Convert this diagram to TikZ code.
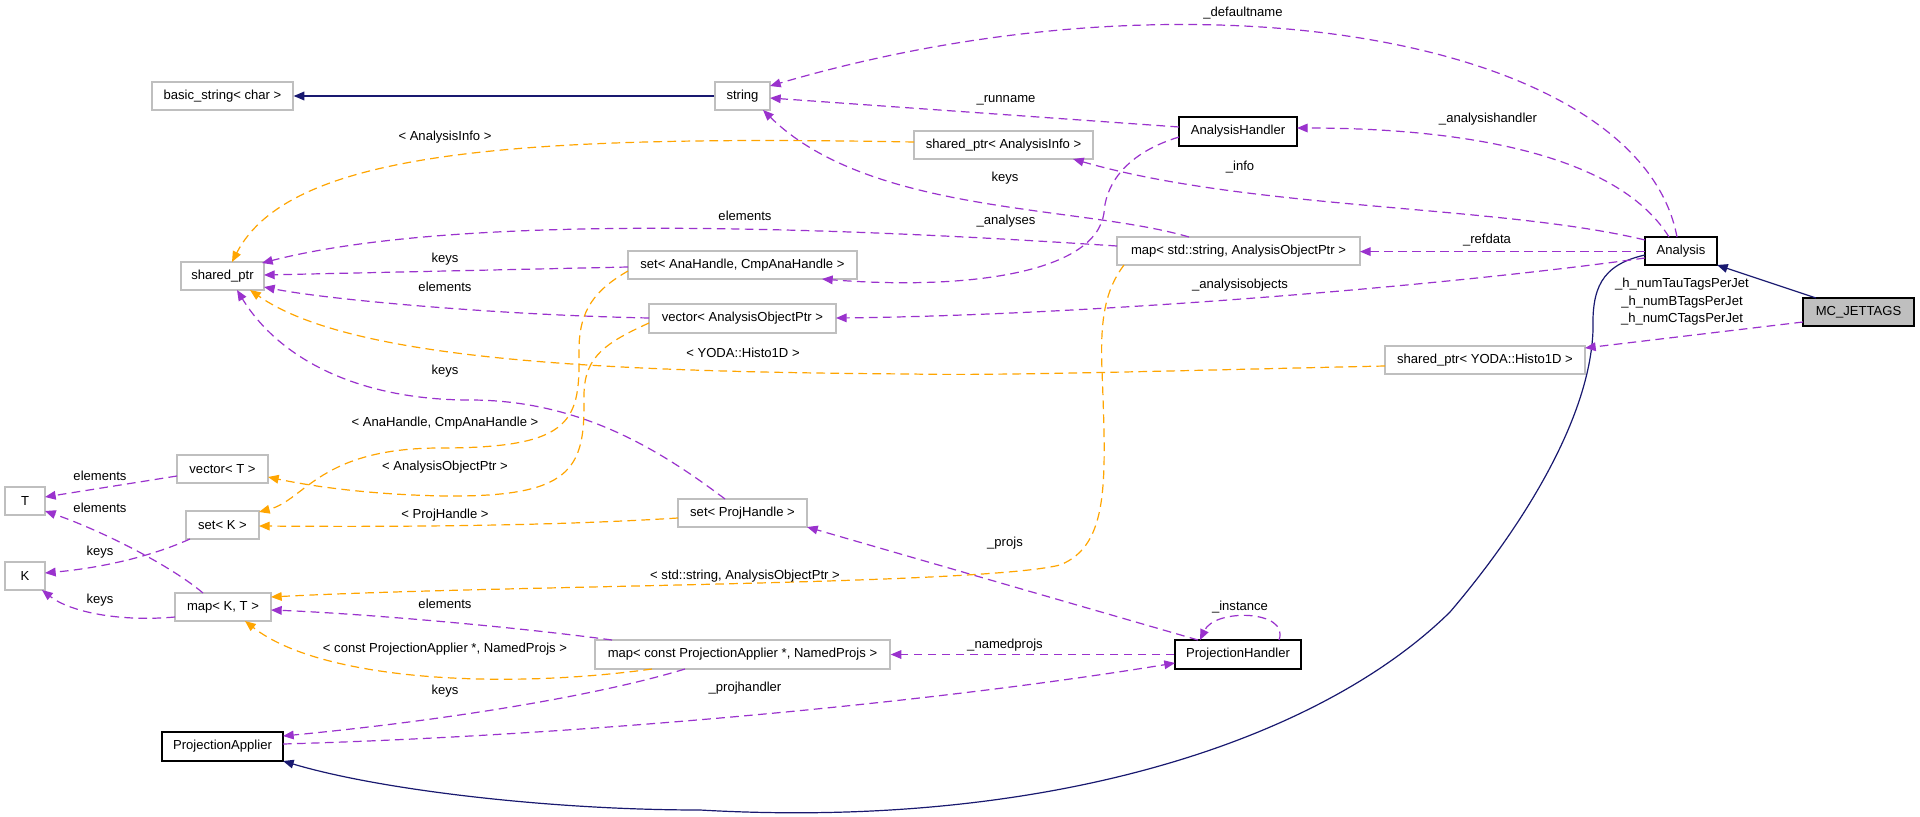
\documentclass[tikz,border=0pt]{standalone}
\usepackage{fontspec}
\setmainfont{Liberation Sans}
\usetikzlibrary{arrows.meta}
\definecolor{usec}{HTML}{9A32CD}
\definecolor{tplc}{HTML}{FFA500}
\definecolor{inhc}{HTML}{191970}
\definecolor{boxgray}{HTML}{BFBFBF}
\newcommand\cbox[7]{\node[#1, minimum width={(#5-#4)*0.75pt}, minimum height={(#7-#6)*0.75pt}] (#2) at ({(#4+#5)/2},{(#6+#7)/2}) {#3};}
\begin{document}
\begin{tikzpicture}[x=0.75pt,y=-0.75pt,
  font=\fontsize{9.8}{12}\selectfont,
  gbox/.style={draw=boxgray, line width=1pt, fill=white, inner sep=0pt},
  bbox/.style={draw=black, line width=1.2pt, fill=white, inner sep=0pt},
  mbox/.style={draw=black, line width=1.2pt, fill=boxgray, inner sep=0pt},
  usearrow/.style={draw=usec, line width=0.9pt, dash pattern=on 6.5pt off 4pt, -{Triangle[length=8pt,width=6.5pt]}},
  tplarrow/.style={draw=tplc, line width=0.9pt, dash pattern=on 6.5pt off 4pt, -{Triangle[length=8pt,width=6.5pt]}},
  inharrow/.style={draw=inhc, line width=0.9pt, -{Triangle[length=8pt,width=6.5pt]}},
  lbl/.style={inner sep=0pt, text=black}]
\useasboundingbox (0,0) rectangle (1920,817);
\fill[white] (0,0) rectangle (1920,817);

% nodes
\cbox{gbox}{bs}{basic\_string< char >}{152}{293}{82}{110}
\cbox{gbox}{str}{string}{715}{770}{82}{110}
\cbox{bbox}{ah}{AnalysisHandler}{1179}{1297}{117}{146}
\cbox{gbox}{spai}{shared\_ptr< AnalysisInfo >}{914}{1093}{131}{159}
\cbox{gbox}{sp}{shared\_ptr}{181}{264}{262}{290}
\cbox{gbox}{setah}{set< AnaHandle, CmpAnaHandle >}{628}{857}{251}{279}
\cbox{gbox}{mapsa}{map< std::string, AnalysisObjectPtr >}{1117}{1360}{237}{265}
\cbox{bbox}{an}{Analysis}{1645}{1717}{237}{265}
\cbox{gbox}{vaop}{vector< AnalysisObjectPtr >}{649}{836}{304}{333}
\cbox{mbox}{mc}{MC\_JETTAGS}{1803}{1914}{298}{326}
\cbox{gbox}{spy}{shared\_ptr< YODA::Histo1D >}{1385}{1585}{346}{374}
\cbox{gbox}{vt}{vector< T >}{177}{268}{455}{483}
\cbox{gbox}{T}{T}{5}{45}{487}{515}
\cbox{gbox}{setk}{set< K >}{186}{259}{511}{539}
\cbox{gbox}{setph}{set< ProjHandle >}{678}{807}{499}{527}
\cbox{gbox}{K}{K}{5}{45}{562}{590}
\cbox{gbox}{mapkt}{map< K, T >}{175}{271}{593}{621}
\cbox{gbox}{mappa}{map< const ProjectionApplier *, NamedProjs >}{595}{890}{640}{669}
\cbox{bbox}{ph}{ProjectionHandler}{1175}{1301}{640}{669}
\cbox{bbox}{pa}{ProjectionApplier}{162}{283}{732}{761}

% inheritance
\draw[inharrow] (str.west) -- (bs.east);
\draw[inharrow] ([shift={(-42.5,-14)}]mc.center) -- ([shift={(36,14)}]an.center);
\draw[inharrow] ([shift={(-36,4)}]an.center) .. controls (1600,265) and (1592,290) .. (1593,330)
  .. controls (1590,420) and (1520,530) .. (1450,612)
  .. controls (1320,740) and (1050,830) .. (700,810)
  .. controls (550,810) and (380,790) .. ([shift={(60.5,14.5)}]pa.center);

% usage
\draw[usearrow] ([shift={(-4,-14)}]an.center) .. controls (1640,40) and (1200,-40) .. ([shift={(27.5,-10)}]str.center);
\draw[usearrow] ([shift={(-59,-4.5)}]ah.center) -- ([shift={(27.5,2)}]str.center);
\draw[usearrow] ([shift={(-49.5,-14)}]mapsa.center) .. controls (1080,205) and (870,215) .. ([shift={(20.5,14)}]str.center);
\draw[usearrow] ([shift={(-12,-14)}]an.center) .. controls (1615,150) and (1450,128) .. ([shift={(59,-3.5)}]ah.center);
\draw[usearrow] ([shift={(-36,-11)}]an.center) .. controls (1500,205) and (1250,210) .. ([shift={(69.5,14)}]spai.center);
\draw[usearrow] ([shift={(-121.5,-5)}]mapsa.center) .. controls (800,225) and (450,215) .. ([shift={(39.5,-13)}]sp.center);
\draw[usearrow] ([shift={(-114.5,2)}]setah.center) -- ([shift={(41.5,-1)}]sp.center);
\draw[usearrow] ([shift={(-59,5.5)}]ah.center) .. controls (1120,155) and (1105,190) .. (1104,213)
  .. controls (1095,275) and (960,290) .. ([shift={(79.5,14)}]setah.center);
\draw[usearrow] ([shift={(-36,0.6)}]an.center) -- ([shift={(121.5,0.6)}]mapsa.center);
\draw[usearrow] ([shift={(-93.5,-0.5)}]vaop.center) .. controls (500,315) and (330,300) .. ([shift={(41.5,11)}]sp.center);
\draw[usearrow] ([shift={(-36,7)}]an.center) .. controls (1450,285) and (1100,315) .. ([shift={(93.5,-0.5)}]vaop.center);
\draw[usearrow] ([shift={(-55.5,10)}]mc.center) -- ([shift={(100,-12)}]spy.center);
\draw[usearrow] ([shift={(-45.5,7)}]vt.center) -- ([shift={(20,-4)}]T.center);
\draw[usearrow] ([shift={(-20,-14)}]mapkt.center) .. controls (170,565) and (100,530) .. ([shift={(20,10)}]T.center);
\draw[usearrow] ([shift={(-32.5,14)}]setk.center) .. controls (150,557) and (100,568) .. ([shift={(20,-3)}]K.center);
\draw[usearrow] ([shift={(-48,10)}]mapkt.center) .. controls (120,622) and (70,612) .. ([shift={(17,14)}]K.center);
\draw[usearrow] ([shift={(-17.5,-14)}]setph.center) .. controls (660,450) and (580,400) .. (470,400)
  .. controls (360,400) and (280,360) .. ([shift={(14.5,14)}]sp.center);
\draw[usearrow] ([shift={(-40,-14.5)}]ph.center) -- ([shift={(64.5,14)}]setph.center);
\draw[usearrow] ([shift={(41,-14.5)}]ph.center) .. controls (1290,610) and (1215,608) .. ([shift={(-38,-14.5)}]ph.center);
\draw[usearrow] (ph.west) -- (mappa.east);
\draw[usearrow] ([shift={(-130.5,-14.5)}]mappa.center) .. controls (500,625) and (350,613) .. ([shift={(48,3)}]mapkt.center);
\draw[usearrow] ([shift={(-57.5,14.5)}]mappa.center) .. controls (600,695) and (450,720) .. ([shift={(60.5,-10.5)}]pa.center);
\draw[usearrow] ([shift={(60.5,-2.5)}]pa.center) .. controls (600,735) and (950,700) .. ([shift={(-63,8.5)}]ph.center);

% template instances
\draw[tplarrow] ([shift={(-89.5,-3)}]spai.center) .. controls (520,135) and (290,150) .. ([shift={(9.5,-14)}]sp.center);
\draw[tplarrow] ([shift={(-100,6)}]spy.center) .. controls (1200,370) and (1000,376) .. (912,374)
  .. controls (600,372) and (350,360) .. ([shift={(27.5,14)}]sp.center);
\draw[tplarrow] ([shift={(-114.5,14)}]mapsa.center) .. controls (1105,290) and (1100,320) .. (1102,370)
  .. controls (1106,480) and (1110,545) .. (1060,565)
  .. controls (980,585) and (500,585) .. ([shift={(48,-10)}]mapkt.center);
\draw[tplarrow] ([shift={(-93.5,4.5)}]vaop.center) .. controls (600,345) and (583,360) .. (584,400)
  .. controls (585,470) and (570,497) .. (446,496)
  .. controls (380,495) and (320,488) .. ([shift={(45.5,8)}]vt.center);
\draw[tplarrow] ([shift={(-114.5,6)}]setah.center) .. controls (595,290) and (579,310) .. (579,350)
  .. controls (580,420) and (575,448) .. (440,448)
  .. controls (320,448) and (305,500) .. ([shift={(36.5,-13)}]setk.center);
\draw[tplarrow] ([shift={(-64.5,5)}]setph.center) .. controls (550,526) and (400,527) .. ([shift={(36.5,1)}]setk.center);
\draw[tplarrow] ([shift={(-90.5,14.5)}]mappa.center) .. controls (500,690) and (320,680) .. ([shift={(22,14)}]mapkt.center);

% labels
\node[lbl] (l1) at (1243,13) {\_defaultname};
\node[lbl] (l2) at (1006,100) {\_runname};
\node[lbl] (l3) at (1005,178) {keys};
\node[lbl] (l4) at (1488,119) {\_analysishandler};
\node[lbl] (l5) at (1240,167) {\_info};
\node[lbl] (l6) at (445,137) {< AnalysisInfo >};
\node[lbl] (l7) at (745,216) {elements};
\node[lbl] (l8) at (445,259) {keys};
\node[lbl] (l9) at (1006,221) {\_analyses};
\node[lbl] (l10) at (1487,240) {\_refdata};
\node[lbl] (l11) at (445,287) {elements};
\node[lbl] (l12) at (743,353) {< YODA::Histo1D >};
\node[lbl] (l13) at (745,576) {< std::string, AnalysisObjectPtr >};
\node[lbl] (l14) at (1240,285) {\_analysisobjects};
\node[lbl, align=center, font=\fontsize{9.8}{13.1}\selectfont] (l15) at (1682,302) {\_h\_numTauTagsPerJet\\\_h\_numBTagsPerJet\\\_h\_numCTagsPerJet};
\node[lbl] (l16) at (100,476) {elements};
\node[lbl] (l17) at (100,508) {elements};
\node[lbl] (l18) at (100,552) {keys};
\node[lbl] (l19) at (100,600) {keys};
\node[lbl] (l20) at (445,467) {< AnalysisObjectPtr >};
\node[lbl] (l21) at (445,423) {< AnaHandle, CmpAnaHandle >};
\node[lbl] (l22) at (445,515) {< ProjHandle >};
\node[lbl] (l23) at (445,371) {keys};
\node[lbl] (l24) at (1005,543) {\_projs};
\node[lbl] (l25) at (1240,607) {\_instance};
\node[lbl] (l26) at (1005,645) {\_namedprojs};
\node[lbl] (l27) at (445,604) {elements};
\node[lbl] (l28) at (445,649) {< const ProjectionApplier *, NamedProjs >};
\node[lbl] (l29) at (445,691) {keys};
\node[lbl] (l30) at (745,688) {\_projhandler};
\end{tikzpicture}
\end{document}
